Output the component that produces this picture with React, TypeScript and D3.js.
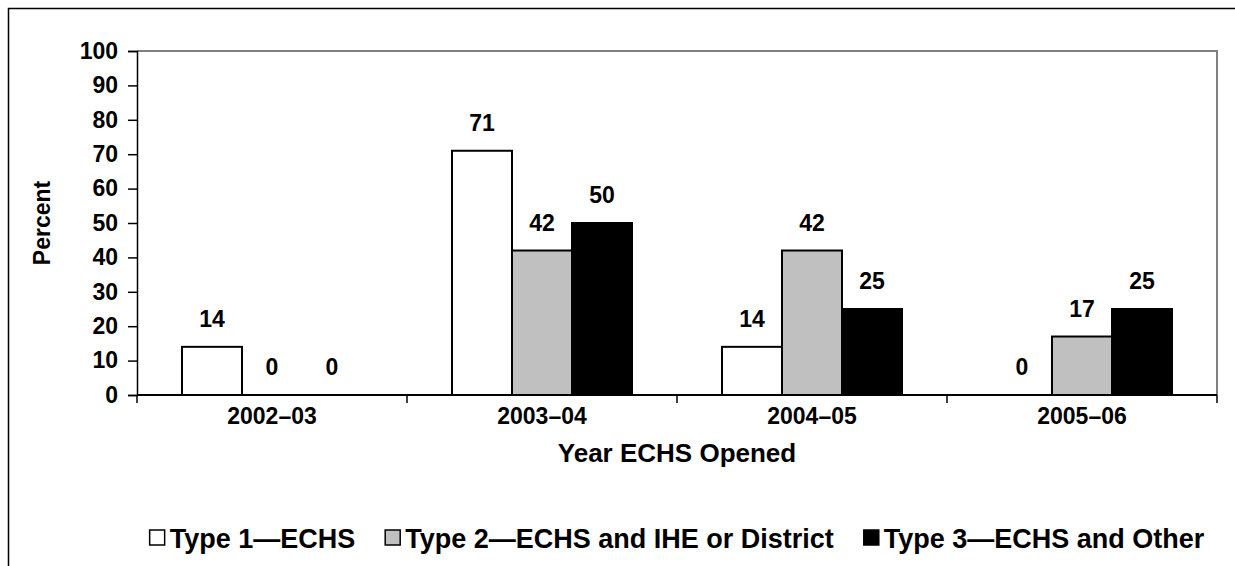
import React, { useEffect, useRef } from 'react';
import * as d3 from 'd3';

const years = ['2002–03', '2003–04', '2004–05', '2005–06'];
const seriesNames = ['Type 1—ECHS', 'Type 2—ECHS and IHE or District', 'Type 3—ECHS and Other'];
const type1 = [14, 71, 14, 0];
const type2 = [0, 42, 42, 17];
const type3 = [0, 50, 25, 25];
const yTicks = [0, 10, 20, 30, 40, 50, 60, 70, 80, 90, 100];
const colors = ['#ffffff', '#c0c0c0', '#000000'];

export default function App() {
  const ref = useRef<SVGSVGElement>(null);

  useEffect(() => {
    const W = 1235, H = 566;
    const margin = { top: 51, right: 18, bottom: 171, left: 137 };
    const width = W - margin.left - margin.right;
    const height = H - margin.top - margin.bottom;
    const font = '"Liberation Sans", Arial, sans-serif';

    const svg = d3.select(ref.current);
    svg.selectAll('*').remove();

    // outer frame (runs off the right/bottom edges)
    svg.append('rect')
      .attr('x', 8.5).attr('y', 8.5)
      .attr('width', W + 20).attr('height', H + 20)
      .attr('fill', 'white').attr('stroke', '#000').attr('stroke-width', 1.5);

    const g = svg.append('g').attr('transform', `translate(${margin.left}, ${margin.top})`);

    const data = years.map((y, i) => ({ year: y, values: [type1[i], type2[i], type3[i]] }));

    const x0 = d3.scaleBand().domain(years).range([0, width]).padding(0);
    const x1 = d3.scaleBand<number>().domain([0, 1, 2]).range([0, x0.bandwidth()])
      .paddingInner(0).paddingOuter(0.75);
    const y = d3.scaleLinear().domain([0, 100]).range([height, 0]);

    // gray plot frame top/right
    g.append('path')
      .attr('d', `M0,0H${width}V${height}`)
      .attr('fill', 'none').attr('stroke', '#808080').attr('stroke-width', 2);

    // bars
    const groups = g.selectAll('.grp').data(data).join('g')
      .attr('class', 'grp')
      .attr('transform', d => `translate(${x0(d.year)},0)`);

    groups.selectAll('rect')
      .data(d => d.values.map((v, k) => ({ v, k })))
      .join('rect')
      .filter(d => d.v > 0)
      .attr('x', d => x1(d.k)!)
      .attr('y', d => y(d.v))
      .attr('width', x1.bandwidth())
      .attr('height', d => height - y(d.v))
      .attr('fill', d => colors[d.k])
      .attr('stroke', '#000')
      .attr('stroke-width', 2);

    groups.selectAll('text')
      .data(d => d.values.map((v, k) => ({ v, k })))
      .join('text')
      .attr('x', d => x1(d.k)! + x1.bandwidth() / 2)
      .attr('y', d => y(d.v) - 28)
      .attr('dy', '0.36em')
      .attr('text-anchor', 'middle')
      .style('font-family', font)
      .style('font-weight', 'bold')
      .style('font-size', '23px')
      .text(d => d.v);

    // y axis
    const yAxis = g.append('g')
      .call(d3.axisLeft(y).tickValues(yTicks).tickSize(9).tickPadding(10));
    yAxis.select('.domain').attr('stroke', '#000').attr('stroke-width', 1.5);
    yAxis.selectAll('.tick line').attr('stroke', '#000').attr('stroke-width', 1.5);
    yAxis.selectAll('.tick text')
      .style('font-family', font).style('font-weight', 'bold').style('font-size', '23px')
      .attr('fill', '#000');

    // x axis
    const xAxis = g.append('g').attr('transform', `translate(0, ${height})`);
    xAxis.append('line').attr('x1', 0).attr('x2', width)
      .attr('stroke', '#000').attr('stroke-width', 2);
    xAxis.selectAll('.xt').data([0, 1, 2, 3, 4]).join('line')
      .attr('class', 'xt')
      .attr('x1', i => i * x0.step()).attr('x2', i => i * x0.step())
      .attr('y1', 0).attr('y2', 8)
      .attr('stroke', '#000').attr('stroke-width', 1.5);
    xAxis.selectAll('.xl').data(years).join('text')
      .attr('class', 'xl')
      .attr('x', d => x0(d)! + x0.bandwidth() / 2)
      .attr('y', 21)
      .attr('dy', '0.36em')
      .attr('text-anchor', 'middle')
      .style('font-family', font).style('font-weight', 'bold').style('font-size', '23px')
      .text(d => d);

    g.append('text')
      .attr('x', width / 2)
      .attr('y', height + 58)
      .attr('dy', '0.36em')
      .attr('text-anchor', 'middle')
      .style('font-family', font).style('font-weight', 'bold').style('font-size', '26px')
      .text('Year ECHS Opened');

    g.append('text')
      .attr('transform', `translate(-95, ${height / 2}) rotate(-90)`)
      .attr('dy', '0.36em')
      .attr('text-anchor', 'middle')
      .style('font-family', font).style('font-weight', 'bold').style('font-size', '23px')
      .text('Percent');

    // legend
    const legend = g.append('g');
    const gap = 30;
    let cx = 0;
    seriesNames.forEach((name, k) => {
      const it = legend.append('g').attr('transform', `translate(${cx},0)`);
      it.append('rect')
        .attr('x', 0).attr('y', -8).attr('width', 15).attr('height', 15)
        .attr('fill', colors[k]).attr('stroke', '#000').attr('stroke-width', 1.5);
      const t = it.append('text')
        .attr('x', 20).attr('dy', '0.36em')
        .style('font-family', font).style('font-weight', 'bold').style('font-size', '27px')
        .text(name);
      cx += 20 + (t.node() as SVGTextElement).getComputedTextLength() + gap;
    });
    const total = cx - gap;
    legend.attr('transform', `translate(${width / 2 - total / 2}, ${height + 143})`);
  }, []);

  return (
    <svg ref={ref} width={1235} height={566}
      style={{ position: 'absolute', left: 0, top: 0, background: 'white' }} />
  );
}
